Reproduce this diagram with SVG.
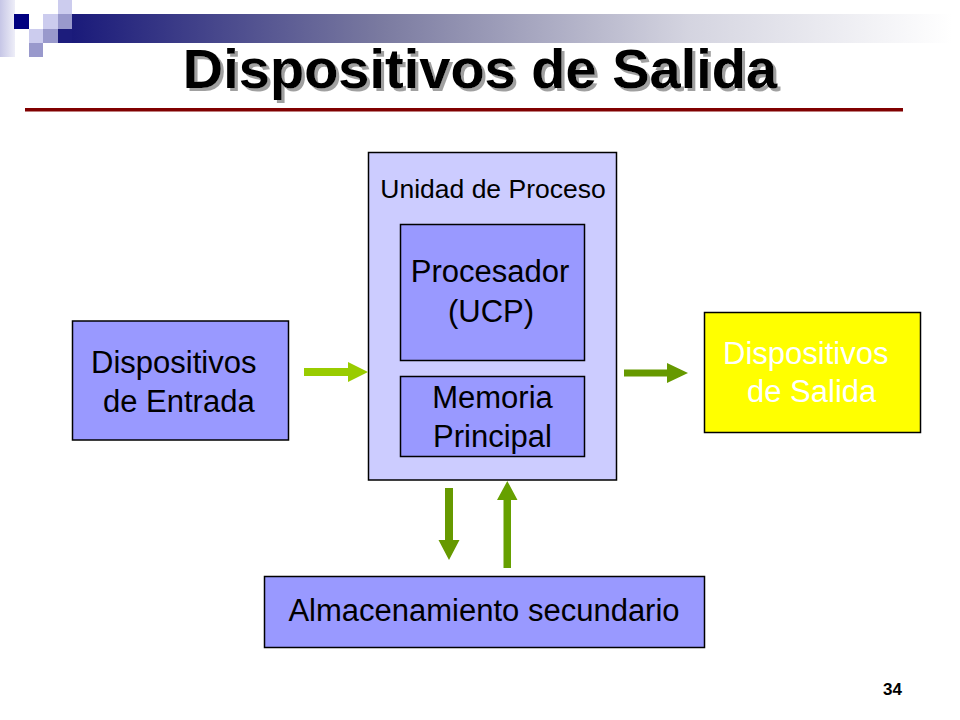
<svg xmlns="http://www.w3.org/2000/svg" width="960" height="720" viewBox="0 0 960 720">
  <defs>
    <linearGradient id="band" x1="0" y1="0" x2="1" y2="0">
      <stop offset="0" stop-color="#1a1a7a"/>
      <stop offset="0.35" stop-color="#7a7aa0"/>
      <stop offset="0.7" stop-color="#d4d4e0"/>
      <stop offset="1" stop-color="#ffffff"/>
    </linearGradient>
    <linearGradient id="strip" x1="0" y1="0" x2="1" y2="0">
      <stop offset="0" stop-color="#c6c6e6"/>
      <stop offset="1" stop-color="#eeeef8"/>
    </linearGradient>
    <filter id="shadow" x="-5%" y="-10%" width="110%" height="130%">
      <feDropShadow dx="3" dy="3" stdDeviation="0.6" flood-color="#a0a0a0" flood-opacity="1"/>
    </filter>
    <style>
      .box { stroke: #000; stroke-width: 1.5; }
      .dark { fill: #9999ff; }
      .light { fill: #ccccff; }
      .lbl { font-family: "Liberation Sans", Arial, sans-serif; font-size: 31px; fill: #000; }
      .wlbl { font-family: "Liberation Sans", Arial, sans-serif; font-size: 31px; fill: #ffffff; }
      .title { font-family: "Liberation Sans", Arial, sans-serif; font-size: 56px; font-weight: bold; text-anchor: middle; }
      .sqL { fill: #ccccee; }
      .sqM { fill: #9999cc; }
    </style>
  </defs>

  <rect width="960" height="720" fill="#ffffff"/>

  <!-- header decoration -->
  <g id="header">
    <rect x="72" y="14" width="880" height="29" fill="url(#band)"/>
    <rect x="0" y="0" width="15" height="57" fill="url(#strip)"/>
    <rect x="14" y="14" width="15" height="15" fill="#000080"/>
    <rect class="sqL" x="58" y="0" width="14" height="14"/>
    <rect class="sqL" x="43" y="14" width="15" height="15"/>
    <rect class="sqM" x="58" y="14" width="14" height="15"/>
    <rect class="sqL" x="29" y="29" width="14" height="14"/>
    <rect class="sqM" x="43" y="29" width="15" height="14"/>
    <rect x="58" y="29" width="14" height="14" fill="#1c1c7c"/>
    <rect class="sqM" x="29" y="43" width="14" height="14"/>
  </g>

  <g id="title">
    <text class="title" x="480" y="88" fill="#000000" filter="url(#shadow)">Dispositivos de Salida</text>
    <rect x="25" y="108" width="878" height="3.5" fill="#800000"/>
  </g>

  <g id="unidad-proceso">
    <rect class="box light" x="368.5" y="152.5" width="248" height="327.5"/>
    <text class="lbl" x="493" y="198" text-anchor="middle" style="font-size:26.5px">Unidad de Proceso</text>
  </g>

  <g id="procesador">
    <rect class="box dark" x="400.5" y="224.5" width="184" height="136"/>
    <text class="lbl" x="490" y="282" text-anchor="middle">Procesador</text>
    <text class="lbl" x="491" y="322" text-anchor="middle">(UCP)</text>
  </g>

  <g id="memoria">
    <rect class="box dark" x="400.5" y="376.5" width="184" height="80"/>
    <text class="lbl" x="492.5" y="408" text-anchor="middle">Memoria</text>
    <text class="lbl" x="492.5" y="447" text-anchor="middle">Principal</text>
  </g>

  <g id="entrada">
    <rect class="box dark" x="72.5" y="321" width="216" height="119"/>
    <text class="lbl" x="91" y="373">Dispositivos</text>
    <text class="lbl" x="103" y="412">de Entrada</text>
  </g>

  <g id="salida">
    <rect class="box" fill="#ffff00" x="704.5" y="312.5" width="216" height="120"/>
    <text class="wlbl" x="723" y="364">Dispositivos</text>
    <text class="wlbl" x="747" y="402">de Salida</text>
  </g>

  <g id="almacenamiento">
    <rect class="box dark" x="264.5" y="576.5" width="440" height="71"/>
    <text class="lbl" x="484" y="621" text-anchor="middle">Almacenamiento secundario</text>
  </g>

  <g id="connectors">
    <polygon fill="#99cc00" points="304,368 348,368 348,362 368,372 348,382 348,376 304,376"/>
    <polygon fill="#669900" points="624,369.5 667,369.5 667,363 688,373 667,383 667,376.5 624,376.5"/>
    <polygon fill="#669900" points="445,488 453,488 453,540 459.5,540 449,560 438.5,540 445,540"/>
    <polygon fill="#66a000" points="503.5,568 511,568 511,500 517.5,500 507.3,481 497,500 503.5,500"/>
  </g>

  <text x="902" y="695" text-anchor="end" style="font-family:'Liberation Sans', Arial, sans-serif; font-size:17px; font-weight:bold; fill:#000">34</text>
</svg>
